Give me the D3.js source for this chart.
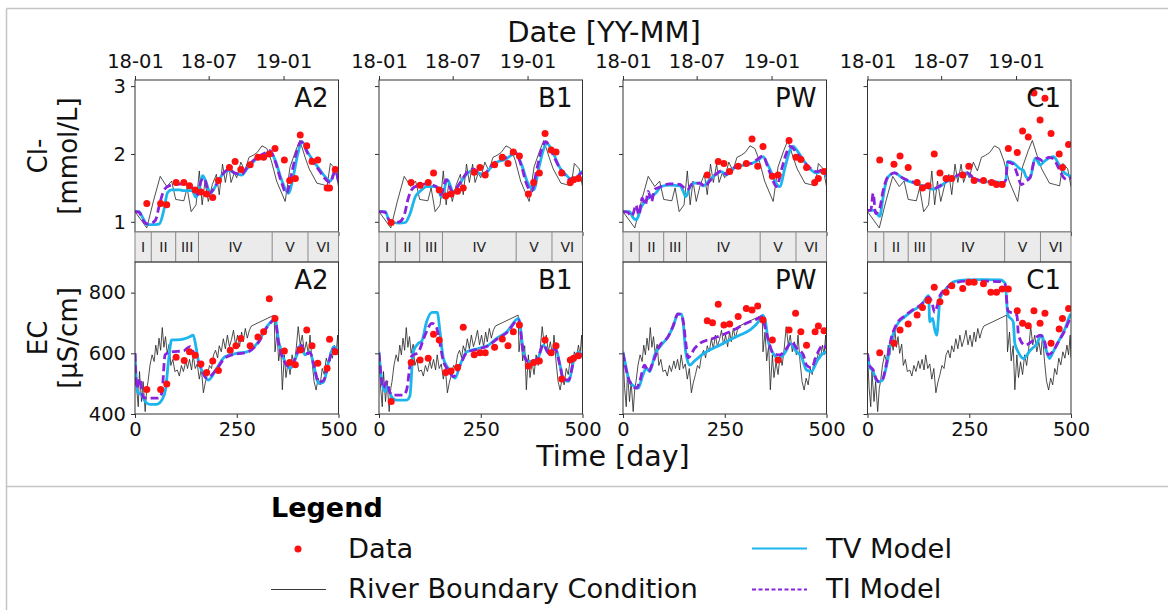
<!DOCTYPE html>
<html>
<head>
<meta charset="utf-8">
<script src="https://cdn.jsdelivr.net/npm/d3@7"></script>
<style>
  body { margin: 0; background: #fff; }
  svg { display: block; font-family: "DejaVu Sans", sans-serif; }
</style>
</head>
<body>
<svg id="chart" width="1168" height="610"></svg>
<script>
// ---------------- axis / category data ----------------
var stations = ['A2', 'B1', 'PW', 'C1'];
var dateTickDays = [0, 181, 365];
var dateTickLabels = ['18-01', '18-07', '19-01'];
var dayTicks = [0, 250, 500];
var clTicks = [1, 2, 3];
var ecTicks = [400, 600, 800];
var phaseBounds = [0, 40, 100, 156, 337, 425, 500];
var phaseLabels = ['I', 'II', 'III', 'IV', 'V', 'VI'];

// ---------------- river boundary condition (shared) ----------------
var riverCl = [[0,1.15],[29,0.91],[45,1.30],[62,1.67],[78,1.52],[90,1.60],[100,1.33],[120,1.31],[128,1.50],[138,1.15],
  [150,1.25],[158,1.75],[165,1.25],[172,1.60],[180,1.30],[190,1.55],[200,1.70],[207,1.40],[215,1.85],[222,1.58],
  [230,1.85],[236,1.58],[244,1.72],[250,1.65],[260,1.88],[270,1.75],[280,1.95],[290,1.98],[300,2.02],[312,2.12],
  [324,2.08],[335,1.90],[348,1.60],[369,1.30],[381,1.81],[395,2.05],[405,2.20],[418,1.95],[428,1.78],[447,1.57],
  [460,1.55],[472,1.53],[480,1.86],[492,1.78],[500,1.52]];

var riverEc = [[0,600],[4,485],[8,424],[11,540],[16,441],[20,507],[25,408],[29,485],[32,507],[37,562],[42,595],
  [47,573],[51,627],[55,595],[59,650],[63,610],[67,685],[71,620],[75,655],[79,600],[84,630],[88,560],[93,580],
  [98,540],[104,545],[109,525],[114,560],[119,540],[125,575],[129,550],[134,580],[139,545],[143,595],[148,550],
  [153,565],[158,515],[163,550],[168,470],[173,505],[178,530],[183,560],[188,550],[193,595],[198,610],[203,585],
  [207,625],[212,605],[217,648],[222,615],[227,660],[232,622],[237,645],[242,676],[247,628],[252,660],[257,622],
  [262,670],[266,638],[271,682],[276,650],[281,676],[286,690],[342,726],[344,605],[349,670],[353,575],[358,625],
  [362,480],[367,595],[371,520],[376,572],[381,530],[386,595],[391,560],[396,615],[401,688],[406,628],[411,660],
  [416,605],[421,638],[426,595],[430,660],[435,573],[440,507],[445,479],[450,518],[455,496],[460,550],[465,530],
  [470,584],[475,562],[480,605],[485,584],[490,627],[494,595],[498,660],[500,585]];

// ---------------- measured data ----------------
var clDataA2 = [[29,1.27],[63,1.27],[78,1.25],[101,1.58],[120,1.58],[134,1.53],[148,1.47],[162,1.44],[176,1.41],[191,1.36],
  [205,1.61],[232,1.80],[246,1.89],[260,1.77],[283,1.84],[302,1.95],[316,1.95],[330,2.00],[344,2.08],[367,1.91],
  [380,1.61],[394,1.64],[406,2.28],[422,2.12],[435,1.89],[449,1.91],[472,1.50],[478,1.50],[492,1.77]];
var clDataB1 = [[30,0.99],[79,1.58],[101,1.54],[121,1.58],[134,1.72],[148,1.47],[164,1.38],[177,1.41],[193,1.45],[207,1.50],
  [234,1.73],[248,1.80],[261,1.69],[284,1.84],[303,1.95],[317,1.86],[330,2.03],[345,1.97],[367,1.41],[380,1.58],
  [394,1.72],[408,2.30],[423,2.06],[435,2.03],[449,1.72],[470,1.58],[478,1.62],[490,1.64]];
var clDataPW = [[207,1.69],[234,1.89],[248,1.86],[262,1.74],[283,1.82],[303,1.86],[317,2.22],[331,1.82],[344,2.11],
  [367,1.67],[381,1.69],[408,2.20],[425,1.95],[437,1.92],[451,1.80],[471,1.58],[480,1.64],[494,1.74]];
var clDataC1 = [[30,1.91],[65,1.85],[80,1.97],[100,1.80],[122,1.58],[135,1.50],[149,1.53],[164,2.00],[178,1.72],[193,1.64],
  [207,1.64],[234,1.69],[249,1.82],[262,1.61],[285,1.61],[305,1.58],[317,1.55],[331,1.55],[346,2.08],[368,2.02],
  [381,2.34],[395,2.25],[409,2.90],[424,2.50],[436,2.82],[451,2.30],[471,2.00],[479,1.80],[494,2.14]];

var ecDataA2 = [[29,481],[63,481],[78,499],[101,587],[121,576],[134,605],[148,594],[162,565],[176,537],[191,575],
  [205,543],[234,610],[248,625],[260,649],[283,625],[302,654],[316,671],[330,780],[344,715],[367,608],
  [380,570],[394,562],[406,611],[422,677],[435,625],[449,567],[472,551],[478,646],[492,605]];
var ecDataB1 = [[30,441],[79,570],[101,578],[121,584],[134,663],[148,644],[164,537],[177,542],[193,553],[207,686],
  [234,595],[248,602],[261,602],[284,620],[303,647],[317,625],[330,671],[345,693],[367,558],[380,570],
  [394,575],[408,644],[423,602],[435,625],[449,515],[470,578],[478,584],[490,592]];
var ecDataPW = [[207,707],[220,701],[234,762],[248,693],[262,697],[283,721],[303,748],[317,743],[331,756],[344,710],
  [367,644],[381,578],[408,677],[424,732],[437,671],[451,627],[472,671],[480,690],[494,674]];
var ecDataC1 = [[30,602],[65,633],[80,677],[100,697],[122,726],[135,751],[149,774],[164,818],[178,770],[193,801],
  [207,823],[234,814],[249,834],[262,834],[285,829],[303,801],[317,801],[331,812],[346,812],[368,740],
  [381,699],[395,691],[409,740],[424,699],[436,732],[451,633],[471,680],[479,715],[494,748]];

// ---------------- TV model ----------------
var clTvA2 = [[0,1.15],[10,1.15],[20,1.05],[30,0.96],[40,0.96],[50,0.96],[60,0.97],[70,1.15],[80,1.43],[90,1.47],
  [100,1.47],[110,1.47],[120,1.46],[130,1.46],[140,1.46],[150,1.36],[160,1.55],[166,1.68],[175,1.58],[185,1.42],
  [200,1.55],[215,1.70],[230,1.76],[245,1.72],[262,1.69],[275,1.78],[290,1.88],[300,1.94],[315,1.98],[332,2.03],
  [345,1.90],[360,1.62],[377,1.42],[390,1.70],[400,2.00],[410,2.18],[425,2.02],[439,1.89],[450,1.80],[465,1.68],
  [480,1.60],[492,1.76],[500,1.62]];
var clTvB1 = [[0,1.15],[15,1.15],[25,1.02],[35,0.99],[50,0.98],[65,0.99],[75,1.10],[90,1.38],[101,1.45],[117,1.52],
  [142,1.52],[154,1.36],[168,1.62],[183,1.44],[200,1.58],[215,1.70],[232,1.76],[245,1.72],[257,1.69],[275,1.80],
  [290,1.88],[310,1.92],[325,1.98],[335,2.01],[350,1.85],[365,1.58],[380,1.47],[393,1.80],[405,2.08],[412,2.16],
  [425,2.05],[445,1.79],[458,1.70],[470,1.64],[485,1.65],[498,1.74],[500,1.72]];
var clTvPW = [[0,1.15],[16,1.15],[25,1.06],[33,1.03],[45,1.22],[57,1.32],[70,1.38],[80,1.42],[94,1.52],[115,1.54],
  [140,1.53],[148,1.45],[154,1.37],[165,1.52],[175,1.57],[189,1.57],[197,1.53],[213,1.62],[228,1.70],[242,1.74],
  [254,1.69],[265,1.76],[279,1.81],[300,1.84],[316,1.86],[330,1.90],[344,1.96],[355,1.85],[365,1.72],[375,1.58],
  [385,1.52],[398,1.80],[410,2.05],[418,2.11],[430,2.03],[442,1.92],[455,1.81],[476,1.72],[488,1.74],[500,1.67]];
var clTvC1 = [[0,1.17],[14,1.17],[22,1.13],[30,1.08],[38,1.35],[47,1.62],[57,1.70],[67,1.72],[80,1.67],[92,1.62],
  [116,1.57],[141,1.52],[162,1.48],[178,1.52],[194,1.59],[219,1.67],[243,1.72],[260,1.64],[285,1.59],[310,1.59],
  [334,1.58],[340,1.62],[344,1.89],[358,1.87],[375,1.78],[383,1.76],[390,1.66],[399,1.64],[412,1.94],[424,1.84],
  [436,1.90],[457,1.96],[469,1.86],[481,1.74],[498,1.67],[500,1.66]];

var ecTvA2 = [[0,600],[6,474],[16,463],[25,441],[37,432],[53,432],[66,446],[75,480],[82,570],[90,644],[111,645],
  [135,655],[143,660],[150,620],[156,573],[164,545],[180,512],[201,551],[221,589],[250,600],[275,605],[303,638],
  [324,688],[344,713],[353,638],[365,583],[381,551],[398,595],[406,627],[418,595],[430,605],[439,561],[451,501],
  [463,505],[476,573],[488,622],[500,605]];
var ecTvB1 = [[0,605],[7,507],[15,474],[20,490],[31,457],[43,446],[68,446],[76,460],[84,605],[97,633],[105,640],
  [117,704],[130,735],[143,735],[150,670],[158,584],[170,551],[187,518],[199,561],[216,605],[244,616],[269,627],
  [289,649],[314,671],[343,715],[355,605],[367,573],[388,578],[404,627],[417,600],[433,616],[445,560],[453,512],
  [466,508],[478,573],[490,605],[500,589]];
var ecTvPW = [[0,605],[8,551],[16,507],[29,490],[37,485],[49,529],[57,551],[66,540],[78,595],[94,627],[111,655],
  [123,688],[135,729],[144,729],[148,700],[154,605],[164,561],[176,575],[189,590],[205,605],[221,616],[238,627],
  [262,644],[287,660],[312,677],[336,710],[343,726],[350,705],[357,638],[369,600],[381,583],[402,611],[410,633],
  [426,605],[438,590],[451,545],[463,540],[476,573],[488,595],[500,605]];
var ecTvC1 = [[0,600],[5,555],[14,540],[20,515],[26,506],[36,510],[47,560],[58,640],[71,690],[92,721],[110,740],
  [133,760],[150,790],[153,704],[160,715],[165,680],[170,660],[175,730],[178,781],[194,814],[215,837],[243,842],
  [280,843],[326,842],[338,831],[345,726],[358,704],[362,633],[372,600],[383,583],[400,610],[415,630],[428,660],
  [437,620],[447,583],[458,610],[469,638],[485,680],[498,726],[500,730]];

// ---------------- TI model ----------------
var clTiA2 = [[0,1.15],[10,1.14],[20,1.02],[30,0.97],[40,0.98],[50,1.02],[60,1.25],[70,1.45],[80,1.52],[90,1.54],
  [100,1.55],[115,1.56],[130,1.53],[145,1.48],[155,1.40],[162,1.60],[170,1.64],[182,1.42],[200,1.55],[215,1.70],
  [230,1.77],[245,1.72],[262,1.70],[275,1.80],[290,1.90],[300,1.95],[315,2.00],[332,2.05],[345,1.88],[360,1.58],
  [372,1.42],[385,1.72],[398,2.05],[408,2.18],[425,2.00],[439,1.87],[450,1.78],[465,1.65],[480,1.58],[492,1.75],
  [500,1.60]];
var clTiB1 = [[0,1.15],[15,1.14],[25,1.02],[35,0.99],[50,1.00],[62,1.10],[72,1.35],[84,1.50],[100,1.54],[117,1.56],
  [140,1.52],[152,1.40],[165,1.62],[180,1.45],[200,1.58],[215,1.72],[232,1.78],[245,1.72],[257,1.70],[275,1.82],
  [290,1.90],[310,1.94],[325,2.00],[335,2.02],[350,1.82],[363,1.55],[375,1.45],[388,1.78],[400,2.08],[410,2.18],
  [425,2.02],[445,1.78],[458,1.68],[470,1.62],[485,1.64],[498,1.72],[500,1.70]];
var clTiPW = [[0,1.15],[12,1.14],[20,1.08],[25,1.12],[32,1.25],[39,1.10],[47,1.35],[55,1.25],[62,1.45],[70,1.30],
  [78,1.48],[86,1.50],[100,1.54],[115,1.56],[140,1.55],[150,1.50],[158,1.47],[170,1.56],[189,1.57],[201,1.52],
  [213,1.60],[228,1.70],[242,1.75],[254,1.70],[265,1.76],[279,1.82],[300,1.85],[316,1.86],[330,1.92],[344,1.97],
  [355,1.82],[365,1.66],[377,1.52],[390,1.78],[402,2.02],[412,2.11],[425,2.03],[440,1.92],[455,1.82],[476,1.74],
  [488,1.76],[500,1.70]];
var clTiC1 = [[0,1.17],[8,1.17],[14,1.42],[20,1.12],[30,1.20],[38,1.45],[47,1.63],[57,1.70],[67,1.72],[80,1.67],
  [92,1.63],[116,1.58],[141,1.53],[162,1.49],[178,1.53],[194,1.60],[219,1.68],[243,1.73],[260,1.65],[285,1.60],
  [310,1.59],[334,1.58],[340,1.62],[344,1.88],[358,1.85],[368,1.70],[378,1.55],[390,1.60],[400,1.66],[410,1.90],
  [418,1.94],[430,1.90],[445,1.95],[457,1.93],[469,1.80],[481,1.66],[492,1.62],[500,1.66]];

var ecTiA2 = [[0,600],[4,485],[12,517],[20,455],[33,452],[57,452],[66,470],[74,595],[90,605],[119,608],[135,622],
  [145,600],[160,560],[176,518],[201,548],[221,585],[250,598],[275,603],[303,635],[324,685],[344,710],[353,632],
  [365,578],[381,555],[398,600],[406,632],[418,598],[430,602],[439,565],[451,505],[463,510],[476,570],[488,615],
  [500,600]];
var ecTiB1 = [[0,600],[11,485],[19,507],[27,470],[35,462],[60,462],[68,480],[80,590],[97,605],[113,660],[130,699],
  [140,690],[146,660],[158,575],[170,545],[183,523],[199,560],[216,603],[244,614],[269,625],[289,646],[314,668],
  [343,710],[355,600],[367,572],[388,580],[404,628],[417,600],[433,614],[445,558],[453,515],[466,512],[478,573],
  [490,602],[500,590]];
var ecTiPW = [[0,600],[12,523],[25,490],[33,485],[41,507],[53,561],[62,540],[74,572],[90,625],[111,655],[123,690],
  [135,730],[144,728],[148,705],[154,638],[160,585],[176,616],[189,633],[221,649],[254,666],[279,682],[303,699],
  [332,715],[340,720],[355,655],[369,600],[385,595],[404,620],[414,638],[426,618],[443,595],[451,561],[463,552],
  [476,595],[492,627],[500,616]];
var ecTiC1 = [[0,600],[5,560],[14,545],[20,520],[26,508],[36,512],[47,570],[58,648],[71,695],[92,724],[110,742],
  [133,762],[150,785],[158,770],[165,735],[172,760],[178,790],[194,815],[215,832],[243,838],[280,838],[326,836],
  [338,828],[345,740],[367,726],[371,660],[387,627],[405,640],[424,660],[435,640],[444,595],[455,605],[469,638],
  [485,675],[498,715],[500,720]];

var panels = [
    {name: 'A2', clData: clDataA2, clTv: clTvA2, clTi: clTiA2, ecData: ecDataA2, ecTv: ecTvA2, ecTi: ecTiA2},
    {name: 'B1', clData: clDataB1, clTv: clTvB1, clTi: clTiB1, ecData: ecDataB1, ecTv: ecTvB1, ecTi: ecTiB1},
    {name: 'PW', clData: clDataPW, clTv: clTvPW, clTi: clTiPW, ecData: ecDataPW, ecTv: ecTvPW, ecTi: ecTiPW},
    {name: 'C1', clData: clDataC1, clTv: clTvC1, clTi: clTiC1, ecData: ecDataC1, ecTv: ecTvC1, ecTi: ecTiC1}
];

// ---------------- layout ----------------
var panelLeft = [135, 379, 623, 867.5],
    panelW = 203.5,
    topY = 80, bandY = 232, botY = 262, panelH = 152, bandH = 30;

var tvColor = '#1cb5ee', tiColor = '#8a22dd', dataColor = '#ff1010', axisColor = '#333';
var tickFont = 19.5;

var svg = d3.select('#chart');

// outer frame
var frame = svg.append('g').attr('stroke', '#c4c4c4').attr('stroke-width', 1.5);
frame.append('line').attr('x1', 6.5).attr('y1', 8.5).attr('x2', 1168).attr('y2', 8.5);
frame.append('line').attr('x1', 6.5).attr('y1', 8.5).attr('x2', 6.5).attr('y2', 610);
frame.append('line').attr('x1', 6.5).attr('y1', 486.5).attr('x2', 1168).attr('y2', 486.5);

var x = d3.scaleLinear().domain([0, 500]).range([0, panelW]);
var yCl = d3.scaleLinear().domain([0.85, 3.09]).range([panelH, 0]);
var yEc = d3.scaleLinear().domain([400, 901]).range([panelH, 0]);

var defs = svg.append('defs');
defs.append('clipPath').attr('id', 'clipPanel')
    .append('rect').attr('width', panelW).attr('height', panelH);

function styleAxis (g, fontSize) {
    g.select('.domain').remove();
    g.selectAll('.tick line').attr('stroke', axisColor);
    g.selectAll('.tick text').attr('fill', '#111').style('font-size', fontSize + 'px')
        .style('font-family', '"DejaVu Sans", sans-serif');
}

function drawPanel (g, y, river, tv, ti, data, label) {
    var plot = g.append('g').attr('clip-path', 'url(#clipPanel)');
    var line = d3.line().x(function(d) { return x(d[0]); }).y(function(d) { return y(d[1]); });
    var smooth = d3.line().x(function(d) { return x(d[0]); }).y(function(d) { return y(d[1]); })
        .curve(d3.curveMonotoneX);

    plot.append('path').datum(river).attr('d', line)
        .attr('fill', 'none').attr('stroke', '#222').attr('stroke-width', 0.8);
    plot.append('path').datum(tv).attr('d', smooth)
        .attr('fill', 'none').attr('stroke', tvColor).attr('stroke-width', 2.8);
    plot.append('path').datum(ti).attr('d', smooth)
        .attr('fill', 'none').attr('stroke', tiColor).attr('stroke-width', 2.8)
        .attr('stroke-dasharray', '8,4');
    plot.selectAll('circle').data(data).enter().append('circle')
        .attr('cx', function(d) { return x(d[0]); })
        .attr('cy', function(d) { return y(d[1]); })
        .attr('r', 3.5).attr('fill', dataColor);

    g.append('rect').attr('width', panelW).attr('height', panelH)
        .attr('fill', 'none').attr('stroke', axisColor).attr('stroke-width', 1);

    g.append('text').attr('x', panelW - 10).attr('y', 27)
        .attr('text-anchor', 'end').style('font-size', '26px').attr('fill', '#111')
        .text(label);
}

panels.forEach(function(p, i) {
    var x0 = panelLeft[i];

    // ---- Cl panel ----
    var gTop = svg.append('g').attr('transform', 'translate(' + x0 + ',' + topY + ')');
    drawPanel(gTop, yCl, riverCl, p.clTv, p.clTi, p.clData, p.name);

    gTop.append('g').call(d3.axisTop(x).tickValues(dateTickDays)
            .tickFormat(function(d, k) { return dateTickLabels[k]; })
            .tickSize(4).tickPadding(8))
        .call(styleAxis, tickFont);
    gTop.append('g').call(d3.axisLeft(yCl).tickValues(clTicks)
            .tickFormat(i === 0 ? d3.format('d') : function() { return ''; })
            .tickSize(4).tickPadding(5))
        .call(styleAxis, tickFont);
    gTop.append('g').attr('transform', 'translate(0,' + panelH + ')')
        .call(d3.axisBottom(x).tickValues(dayTicks).tickFormat('').tickSize(4))
        .call(styleAxis, tickFont);

    // ---- phase band ----
    var gBand = svg.append('g').attr('transform', 'translate(' + x0 + ',' + bandY + ')');
    gBand.append('rect').attr('width', panelW).attr('height', bandH)
        .attr('fill', '#ebebeb').attr('stroke', '#888').attr('stroke-width', 1);
    gBand.selectAll('line.sep').data(phaseBounds.slice(1, -1)).enter().append('line')
        .attr('x1', function(d) { return x(d); }).attr('x2', function(d) { return x(d); })
        .attr('y1', 0).attr('y2', bandH).attr('stroke', '#888').attr('stroke-width', 1);
    gBand.selectAll('text').data(phaseLabels).enter().append('text')
        .attr('x', function(d, k) { return (x(phaseBounds[k]) + x(phaseBounds[k + 1])) / 2; })
        .attr('y', bandH / 2 + 5)
        .attr('text-anchor', 'middle').style('font-size', '14px').attr('fill', '#222')
        .text(function(d) { return d; });

    // ---- EC panel ----
    var gBot = svg.append('g').attr('transform', 'translate(' + x0 + ',' + botY + ')');
    drawPanel(gBot, yEc, riverEc, p.ecTv, p.ecTi, p.ecData, p.name);

    gBot.append('g').call(d3.axisLeft(yEc).tickValues(ecTicks)
            .tickFormat(i === 0 ? d3.format('d') : function() { return ''; })
            .tickSize(4).tickPadding(5))
        .call(styleAxis, tickFont);
    gBot.append('g').attr('transform', 'translate(0,' + panelH + ')')
        .call(d3.axisBottom(x).tickValues(dayTicks).tickSize(4).tickPadding(4))
        .call(styleAxis, tickFont);
});

// ---------------- axis titles ----------------
svg.append('text').attr('x', 604).attr('y', 42).attr('text-anchor', 'middle')
    .style('font-size', '29px').attr('fill', '#111').text('Date [YY-MM]');
svg.append('text').attr('x', 613).attr('y', 466).attr('text-anchor', 'middle')
    .style('font-size', '28.5px').attr('fill', '#111').text('Time [day]');

function yTitle (cy, line1, line2) {
    svg.append('text').attr('transform', 'translate(47,' + cy + ') rotate(-90)')
        .attr('text-anchor', 'middle').style('font-size', '26px').attr('fill', '#111').text(line1);
    svg.append('text').attr('transform', 'translate(77,' + cy + ') rotate(-90)')
        .attr('text-anchor', 'middle').style('font-size', '26px').attr('fill', '#111').text(line2);
}
yTitle(topY + panelH / 2, 'Cl-', '[mmol/L]');
yTitle(botY + panelH / 2, 'EC', '[µS/cm]');

// ---------------- legend ----------------
var legend = svg.append('g');
legend.append('text').attr('x', 271).attr('y', 517)
    .style('font-size', '27px').style('font-weight', 'bold').attr('fill', '#000').text('Legend');

legend.append('circle').attr('cx', 298).attr('cy', 549).attr('r', 3.5).attr('fill', dataColor);
legend.append('text').attr('x', 348).attr('y', 558).style('font-size', '27.3px').attr('fill', '#111').text('Data');

legend.append('line').attr('x1', 271).attr('x2', 326).attr('y1', 589.5).attr('y2', 589.5)
    .attr('stroke', '#222').attr('stroke-width', 0.9);
legend.append('text').attr('x', 348).attr('y', 598).style('font-size', '27.3px').attr('fill', '#111')
    .text('River Boundary Condition');

legend.append('line').attr('x1', 752).attr('x2', 807).attr('y1', 548.5).attr('y2', 548.5)
    .attr('stroke', tvColor).attr('stroke-width', 2);
legend.append('text').attr('x', 826).attr('y', 558).style('font-size', '27.3px').attr('fill', '#111').text('TV Model');

legend.append('line').attr('x1', 752).attr('x2', 807).attr('y1', 589.5).attr('y2', 589.5)
    .attr('stroke', tiColor).attr('stroke-width', 2).attr('stroke-dasharray', '4,2.5');
legend.append('text').attr('x', 826).attr('y', 598).style('font-size', '27.3px').attr('fill', '#111').text('TI Model');
</script>
</body>
</html>
